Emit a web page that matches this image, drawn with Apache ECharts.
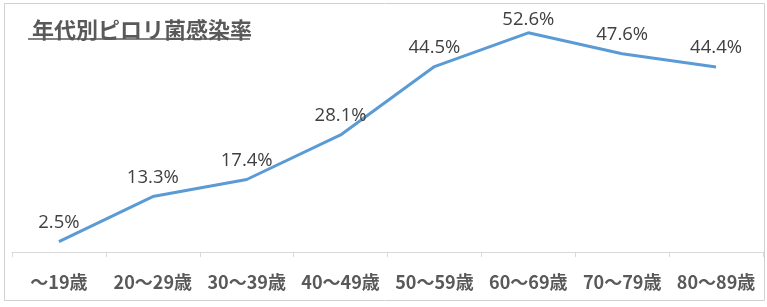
<!DOCTYPE html>
<html><head><meta charset="utf-8">
<script src="https://cdn.jsdelivr.net/npm/echarts@6/dist/echarts.min.js"></script>
<style>html,body{margin:0;padding:0;background:#fff}#c{width:767px;height:307px}</style>
</head><body><div id="c"></div>
<script>
const categories = ['～19歳','20～29歳','30～39歳','40～49歳','50～59歳','60～69歳','70～79歳','80～89歳'];
const rates = [2.5, 13.3, 17.4, 28.1, 44.5, 52.6, 47.6, 44.4];
const titleText = '年代別ピロリ菌感染率';

const seriesData = rates.map((v, i) => i === 5 ? {value: v, label: {distance: 3}} : v);

const chart = echarts.init(document.getElementById('c'));
chart.setOption({
  animation: false,
  backgroundColor: '#ffffff',
  title: {
    text: titleText, left: 27, top: 14,
    textStyle: {fontFamily: '"Noto Sans CJK JP"', fontSize: 22, fontWeight: 'bold', color: '#595959'}
  },
  graphic: [
    {type: 'rect', shape: {x: 4.5, y: 3.5, width: 760, height: 297}, style: {fill: 'none', stroke: '#d0d0d0', lineWidth: 1}, silent: true},
    {type: 'line', shape: {x1: 28, y1: 39, x2: 250, y2: 39}, style: {stroke: '#595959', lineWidth: 1.5}, silent: true}
  ],
  grid: {left: 12, right: 4, top: 2, bottom: 55},
  xAxis: {
    type: 'category', data: categories, boundaryGap: true,
    axisLine: {lineStyle: {color: '#d9d9d9', width: 1}},
    axisTick: {show: true, length: 5, lineStyle: {color: '#d9d9d9'}},
    axisLabel: {interval: 0, margin: 21, fontFamily: '"Noto Sans CJK JP"', fontSize: 18, fontWeight: 'bold', color: '#595959'}
  },
  yAxis: {type: 'value', min: 0, max: 60, show: false, splitLine: {show: false}},
  series: [{
    type: 'line', data: seriesData, symbol: 'circle', symbolSize: 1, showSymbol: true,
    itemStyle: {color: '#5b9bd5', opacity: 0},
    lineStyle: {color: '#5b9bd5', width: 3},
    label: {show: true, position: 'top', distance: 9, formatter: p => Number(p.value).toFixed(1) + '%',
      fontFamily: '"Open Sans"', fontSize: 18.5, color: '#404040', opacity: 1}
  }]
});
</script></body></html>
